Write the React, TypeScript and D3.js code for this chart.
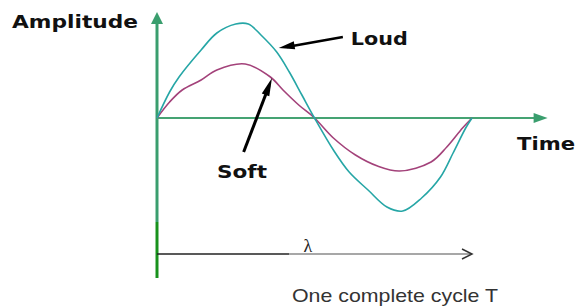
import * as d3 from "d3"

// time as a fraction of one cycle T, amplitude in arbitrary units
const loudTime = [0, 0.04, 0.07, 0.14, 0.19, 0.25, 0.29, 0.33, 0.38, 0.42, 0.46, 0.5, 0.56, 0.61, 0.67, 0.73, 0.78, 0.84, 0.9, 0.94, 0.98, 1]
const loudAmp = [0, 26, 41, 68, 85, 94, 94, 83, 66, 46, 23, 0, -32, -54, -72, -89, -93, -80, -59, -35, -10, 0]

const softTime = [0, 0.04, 0.08, 0.14, 0.19, 0.28, 0.36, 0.4, 0.45, 0.5, 0.56, 0.63, 0.7, 0.77, 0.87, 0.92, 0.97, 1]
const softAmp = [0, 16, 28, 38, 48, 54, 41, 28, 13, 0, -20, -37, -48, -53, -44, -29, -10, 0]

const labels = {
  y: "Amplitude",
  x: "Time",
  loud: "Loud",
  soft: "Soft",
  lambda: "λ",
  cycle: "One complete cycle T",
}

const W = 576
const H = 306

type Pt = { t: number; a: number }

export default function App() {
  const x = d3.scaleLinear().domain([0, 1]).range([157, 472])
  const y = d3.scaleLinear().domain([-100, 100]).range([218, 18])

  const loud: Pt[] = loudTime.map((t, i) => ({ t, a: loudAmp[i] }))
  const soft: Pt[] = softTime.map((t, i) => ({ t, a: softAmp[i] }))

  const line = d3
    .line<Pt>()
    .x((d) => x(d.t))
    .y((d) => y(d.a))
    .curve(d3.curveCatmullRom.alpha(0.5))

  const x0 = x(0)
  const y0 = y(0)
  const xAxisEnd = x(1.24)
  const yAxisTop = y(106)
  const yAxisBottom = y(-160)
  const ySplit = y(-104)
  const lambdaY = y(-136)

  // annotation arrows
  const loudTip = { x: x(0.38) + 2, y: y(70) }
  const loudTail = { x: x(0.59), y: y(81) }
  const softTip = { x: x(0.365), y: y(40) }
  const softTail = { x: x(0.275), y: y(-34) }

  const head = (tip: { x: number; y: number }, tail: { x: number; y: number }, len: number, w: number) => {
    const ang = Math.atan2(tail.y - tip.y, tail.x - tip.x)
    const bx = tip.x + Math.cos(ang) * len
    const by = tip.y + Math.sin(ang) * len
    const px = -Math.sin(ang) * w
    const py = Math.cos(ang) * w
    return `M${tip.x},${tip.y}L${bx + px},${by + py}L${bx - px},${by - py}Z`
  }

  const bold = { fontFamily: "DejaVu Sans, Verdana, sans-serif", fontWeight: 700, fill: "#111" }

  return (
    <svg width={W} height={H} style={{ position: "absolute", left: 0, top: 0, background: "#fff" }}>
      {/* y axis */}
      <line x1={x0} x2={x0} y1={ySplit} y2={yAxisTop + 8} stroke="#3a9e6e" strokeWidth={3} />
      <line x1={x0} x2={x0} y1={yAxisBottom} y2={ySplit} stroke="#18921c" strokeWidth={3} />
      <path d={`M${x0},${yAxisTop}L${x0 - 6},${yAxisTop + 12}L${x0 + 6},${yAxisTop + 12}Z`} fill="#3a9e6e" />

      {/* time axis */}
      <line x1={x0} x2={xAxisEnd - 10} y1={y0} y2={y0} stroke="#45a373" strokeWidth={2} />
      <path d={`M${xAxisEnd},${y0}L${xAxisEnd - 14},${y0 - 5}L${xAxisEnd - 14},${y0 + 5}Z`} fill="#3a9e6e" />

      {/* waves */}
      <path d={line(soft) || ""} fill="none" stroke="#a3427a" strokeWidth={1.6} />
      <path d={line(loud) || ""} fill="none" stroke="#26a6a6" strokeWidth={1.6} />

      {/* annotation arrows */}
      <line x1={loudTail.x} y1={loudTail.y} x2={loudTip.x + 8} y2={loudTip.y - 1} stroke="#000" strokeWidth={2.5} />
      <path d={head(loudTip, loudTail, 16, 4)} fill="#000" />
      <line x1={softTail.x} y1={softTail.y} x2={softTip.x - 3} y2={softTip.y + 8} stroke="#000" strokeWidth={3} />
      <path d={head(softTip, softTail, 18, 4)} fill="#000" />

      {/* wavelength arrow */}
      <line x1={x0} x2={x(0.42)} y1={lambdaY} y2={lambdaY} stroke="#222" strokeWidth={1.5} />
      <line x1={x(0.42)} x2={x(1)} y1={lambdaY} y2={lambdaY} stroke="#8a8a8a" strokeWidth={1.5} />
      <path
        d={`M${x(1) - 10},${lambdaY - 5}L${x(1)},${lambdaY}L${x(1) - 10},${lambdaY + 5}`}
        fill="none"
        stroke="#333"
        strokeWidth={1.5}
      />
      <text x={x(0.465)} y={lambdaY - 2} fontFamily="Liberation Serif, serif" fontSize={18} fill="#222">
        {labels.lambda}
      </text>

      {/* labels */}
      <text x={12} y={28} fontSize={17} textLength={126} lengthAdjust="spacingAndGlyphs" style={bold}>
        {labels.y}
      </text>
      <text x={517} y={150} fontSize={17} textLength={58} lengthAdjust="spacingAndGlyphs" style={bold}>
        {labels.x}
      </text>
      <text x={loudTail.x + 8} y={45} fontSize={18} textLength={57} lengthAdjust="spacingAndGlyphs" style={bold}>
        {labels.loud}
      </text>
      <text x={217} y={178} fontSize={17} textLength={50} lengthAdjust="spacingAndGlyphs" style={bold}>
        {labels.soft}
      </text>
      <text
        x={292}
        y={302}
        fontFamily="Liberation Sans, Arial, sans-serif"
        fontSize={19}
        fill="#333"
        textLength={206}
        lengthAdjust="spacingAndGlyphs"
      >
        {labels.cycle}
      </text>
    </svg>
  )
}
